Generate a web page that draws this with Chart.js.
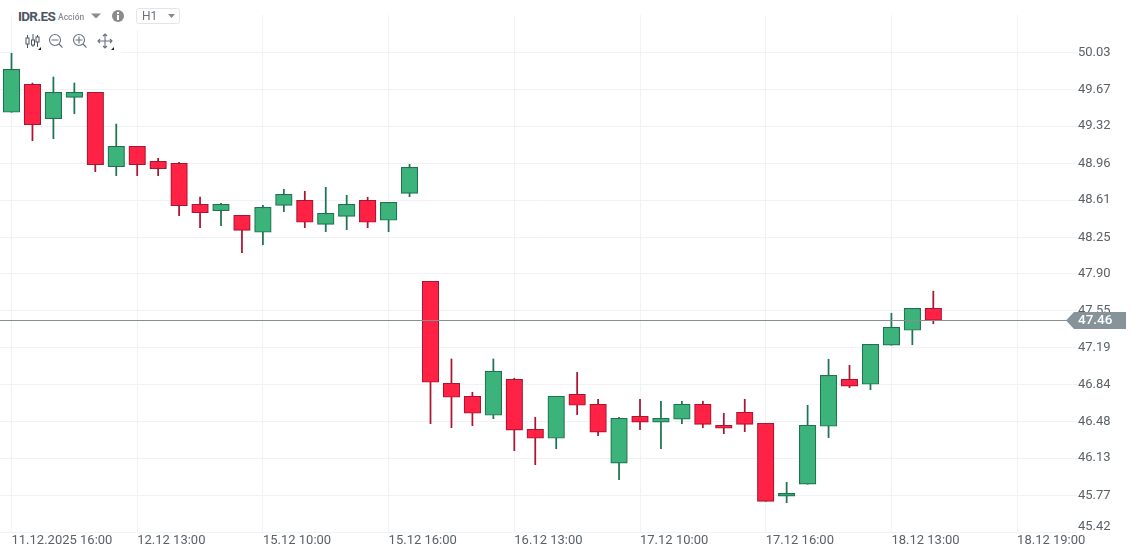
<!DOCTYPE html>
<html>
<head>
<meta charset="utf-8">
<script src="https://cdn.jsdelivr.net/npm/chart.js@4"></script>
<style>
html,body{margin:0;padding:0;background:#fff;overflow:hidden}
#wrap{position:relative;width:1136px;height:556px;font-family:Roboto,sans-serif}
#c{position:absolute;left:0;top:0}
.cover{position:absolute;background:#fff}
.t{position:absolute;white-space:nowrap;line-height:1}
svg{position:absolute;left:0;top:0;pointer-events:none}
</style>
</head>
<body>
<div id="wrap">
<canvas id="c" width="1136" height="556"></canvas>
<div class="cover" style="left:12px;top:0;width:190px;height:30px"></div>
<div class="cover" style="left:12px;top:15px;width:109px;height:38px"></div>
<svg width="1136" height="556">
  <path d="M91 13.5h10l-5 5z" fill="#8b8b8b"/>
  <circle cx="118" cy="16" r="6" fill="#8b8b8b"/>
  <rect x="117" y="15" width="2" height="5" fill="#fff"/><rect x="117" y="12" width="2" height="2" fill="#fff"/>
  <rect x="136.5" y="8.5" width="43" height="15" rx="2" fill="#fff" stroke="#e2e4e6"/>
  <path d="M168 14h7l-3.5 4z" fill="#8b8b8b"/>
  <g fill="none" stroke="#4c5763" stroke-width="1">
    <path d="M27.5 35v13M33 34v13M37.5 35v12"/>
    <rect x="26" y="38" width="3" height="6" fill="#fff"/>
    <rect x="31.5" y="40" width="3" height="5" fill="#fff"/>
    <rect x="36" y="37" width="3" height="5" fill="#fff"/>
  </g>
  <path d="M41 47v3h-3z" fill="#222"/>
  <g fill="none" stroke="#66727c" stroke-width="1.1">
    <circle cx="55" cy="40" r="5.5"/><path d="M51.5 40h7M59 44l3.5 3.5"/>
    <circle cx="79" cy="40" r="5.5"/><path d="M75.5 40h7M79 36.5v7M83 44l3.5 3.5"/>
    <path d="M98 41h14M105 34v14M100 39l-2 2 2 2M110 39l2 2-2 2M103 36l2-2 2 2M103 46l2 2 2-2"/>
  </g>
  <path d="M114 47v3h-3z" fill="#222"/>
</svg>
<div class="t" style="left:18px;top:10px;font-size:13.5px;font-weight:700;color:#4c5763;letter-spacing:-.7px">IDR.ES</div>
<div class="t" style="left:58px;top:13px;font-size:8.5px;font-weight:500;color:#8a8f94">Acción</div>
<div class="t" style="left:142px;top:10px;font-size:12px;color:#6a7279">H1</div>
</div>
<script>
const tickIndexes = [0, 6, 12, 18, 24, 30, 36, 42, 48];
const tickLabels = ["11.12.2025 16:00", "12.12 13:00", "15.12 10:00", "15.12 16:00", "16.12 13:00", "17.12 10:00", "17.12 16:00", "18.12 13:00", "18.12 19:00"];
const priceTicks = [50.03, 49.67, 49.32, 48.96, 48.61, 48.25, 47.90, 47.55, 47.19, 46.84, 46.48, 46.13, 45.77, 45.42];
const opens = [49.454,49.723,49.392,49.598,49.646,48.931,49.127,48.983,48.964,48.570,48.508,48.464,48.301,48.560,48.608,48.377,48.454,48.608,48.416,48.675,47.830,46.850,46.725,46.542,46.888,46.407,46.321,46.744,46.648,46.081,46.532,46.475,46.504,46.648,46.446,46.571,46.465,45.764,45.879,46.436,46.888,46.840,47.215,47.359,47.570];
const closes = [49.867,49.335,49.646,49.646,48.950,49.127,48.950,48.912,48.556,48.489,48.570,48.318,48.541,48.666,48.397,48.483,48.570,48.397,48.589,48.925,46.859,46.715,46.561,46.965,46.398,46.321,46.725,46.638,46.379,46.513,46.475,46.513,46.648,46.455,46.417,46.455,45.715,45.792,46.446,46.926,46.821,47.224,47.388,47.570,47.455];
const highs = [50.021,49.735,49.793,49.735,49.646,49.341,49.127,49.012,48.973,48.640,48.579,48.464,48.560,48.714,48.695,48.733,48.656,48.637,48.589,48.954,47.830,47.083,46.763,47.083,46.898,46.523,46.725,46.955,46.696,46.523,46.696,46.677,46.677,46.677,46.561,46.696,46.465,45.898,46.638,47.080,47.022,47.224,47.522,47.570,47.734];
const lows = [49.454,49.181,49.200,49.440,48.883,48.845,48.845,48.845,48.460,48.345,48.364,48.105,48.181,48.499,48.345,48.306,48.326,48.345,48.306,48.643,46.461,46.423,46.442,46.509,46.202,46.067,46.221,46.548,46.346,45.923,46.404,46.221,46.461,46.423,46.365,46.384,45.715,45.702,45.879,46.327,46.807,46.788,47.215,47.220,47.422];
const currentPrice = 47.457;

const GREEN = "#3cb37a", GREEN_D = "#1f7450", RED = "#ff2244", RED_D = "#ac1531";
const up = i => closes[i] >= opens[i];

const priceTag = {
  id: "priceTag",
  afterDraw(chart) {
    const g = chart.ctx, y = Math.round(chart.scales.y.getPixelForValue(currentPrice)) + 0.5;
    g.save();
    g.strokeStyle = "#84908f"; g.lineWidth = 1.2;
    g.beginPath(); g.moveTo(0, y); g.lineTo(1068, y); g.stroke();
    g.fillStyle = "#87939a";
    g.beginPath();
    g.moveTo(1066, y); g.lineTo(1074, y - 8.5); g.lineTo(1126, y - 8.5); g.lineTo(1126, y + 8.5); g.lineTo(1074, y + 8.5);
    g.closePath(); g.fill();
    g.fillStyle = "#fff"; g.font = "500 13.5px Roboto"; g.textAlign = "left"; g.textBaseline = "middle";
    g.fillText(currentPrice.toFixed(2), 1078, y + 0.5);
    g.restore();
  }
};

new Chart(document.getElementById("c"), {
  type: "bar",
  data: {
    datasets: [
      {
        data: opens.map((o, i) => ({ x: i, y: [o, closes[i]] })),
        grouped: false, barThickness: 16.6, borderWidth: 1.2, borderSkipped: false,
        backgroundColor: opens.map((_, i) => up(i) ? GREEN : RED),
        borderColor: opens.map((_, i) => up(i) ? GREEN_D : RED_D)
      },
      {
        data: highs.map((h, i) => ({ x: i, y: [lows[i], h] })),
        grouped: false, barThickness: 1.1, borderWidth: 0,
        backgroundColor: opens.map((_, i) => up(i) ? GREEN_D : RED_D)
      }
    ]
  },
  options: {
    responsive: false,
    animation: false,
    layout: { padding: { left: 0, right: 0, top: 15, bottom: 0 } },
    plugins: { legend: { display: false }, tooltip: { enabled: false } },
    scales: {
      x: {
        type: "linear", offset: false, min: -0.549, max: 50.859,
        afterBuildTicks: s => { s.ticks = tickIndexes.map(v => ({ value: v })); },
        afterFit: s => { s.height = 24; s.paddingLeft = 0; s.paddingRight = 0; },
        grid: { offset: false, color: "#f1f2f3", lineWidth: 1, drawTicks: false },
        border: { display: false },
        ticks: {
          autoSkip: false, maxRotation: 0, align: "start", padding: 1,
          color: "#5a6268", font: { family: "Roboto", size: 13 },
          callback: v => tickLabels[tickIndexes.indexOf(v)]
        }
      },
      y: {
        position: "right", min: 45.42, max: 50.389,
        afterBuildTicks: s => { s.ticks = priceTicks.map(v => ({ value: v })); },
        afterFit: s => { s.width = 59; s.paddingTop = 0; s.paddingBottom = 0; },
        grid: { color: "#f1f2f3", lineWidth: 1, drawTicks: false },
        border: { display: false },
        ticks: {
          autoSkip: false, padding: 1,
          color: "#5a6268", font: { family: "Roboto", size: 13, lineHeight: 0.8 },
          callback: v => v === 45.42 ? ["45.42", ""] : v.toFixed(2)
        }
      }
    }
  },
  plugins: [priceTag]
});
</script>
</body>
</html>
